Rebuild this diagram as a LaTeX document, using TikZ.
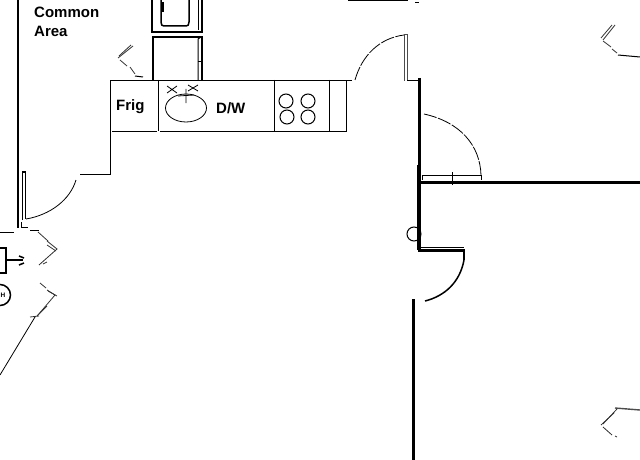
\documentclass[tikz,border=0pt]{standalone}
\usepackage{fontspec}
\setmainfont{Liberation Sans}
\usepackage{tikz}
\tikzset{
	wall/.style={line width=1pt},
	thick wall/.style={line width=1.5pt},
	heavy/.style={line width=3pt},
	fine/.style={line width=0.8pt},
	swing/.style={line width=0.8pt, dash pattern=on 14pt off 1.5pt},
	winline/.style={line width=0.8pt, black!80},
	label/.style={font=\bfseries\fontsize{15}{17}\selectfont, inner sep=0pt, anchor=west}
}
\begin{document}
\begin{tikzpicture}[x=1pt,y=-1pt]
	\useasboundingbox (0,0) rectangle (640,460);
	\node[label] (common) at (34,12) {Common};
	\node[label] (area) at (34,31) {Area};
	\node[label] (frig) at (116,107) {Frig};
	\node[label] (dw) at (216,108) {D/W};
	% outer walls, left
	\draw[thick wall] (18,0) -- (18,228);
	\draw[fine] (0,232) -- (14,232);
	\draw[fine] (21,222) -- (21,227) -- (28,227);
	\draw[fine] (30,230) -- (39,230);
	\draw[wall] (80,174) -- (110,174) -- (110,80);
	\draw[thick wall] (22.5,220) -- (22.5,172) -- (25.5,172) -- (25.5,219);
	\draw[fine] (26,219) .. controls (50,215) and (70,200) .. (76,180);
	% counter
	\draw[wall] (110,80.5) -- (352,80.5);
	\draw[wall] (112,131) -- (157,131);
	\draw[wall] (160,131) -- (346.5,131) -- (346.5,81);
	\foreach \x in {158.5,274,329}
		\draw[wall] (\x,80) -- (\x,131);
	\draw[fine] (186,108) ellipse (20.5 and 14);
	\draw[fine] (186,89) -- (186,103) (178,96) -- (194,95);
	\draw[fine] (167,86) -- (177,93) (167,93) -- (177,86);
	\draw[fine] (188,85) -- (198,91) (188,91) -- (198,85);
	\foreach \x/\y in {286/101,308/101,287/117,308/117}
		\draw[wall] (\x,\y) circle (7);
	% stacked units
	\draw[thick wall] (152,-2) rectangle (202,32);
	\draw[thick wall] (161,-2) -- (161,22) .. controls (161,25) and (162,26) .. (164,26) -- (186,26) .. controls (188,26) and (189,25) .. (189,22) -- (189,-2);
	\draw[line width=3pt] (162.5,2) -- (162.5,12);
	\draw[wall] (198,0) -- (198,30) (201,0) -- (201,30);
	\draw[thick wall] (153,80) -- (153,37) -- (202,37) -- (202,80);
	\draw[wall] (198,80) -- (198,39) -- (201,37);
	\draw[wall] (152,54) -- (152,68);
	\draw[fine] (198,61) -- (201,61);
	% top door
	\draw[line width=1pt, black!70] (404.5,81) -- (404.5,35) -- (407,35) -- (407,81);
	\draw[swing] (355,80) .. controls (362,55) and (380,38) .. (404,35);
	\draw[fine] (407,80) -- (418,80);
	\draw[thick wall] (348,0.6) -- (408,0.6);
	\draw[fine] (415,2) -- (419,2);
	% right walls
	\draw[heavy] (419.5,78) -- (419.5,165);
	\draw[line width=4pt] (418.5,165) -- (418.5,250);
	\draw[heavy] (419,182) -- (640,182);
	\draw[fine] (422,180) -- (422,175.5) -- (481,175.5) -- (481,180);
	\draw[swing] (481,175) .. controls (480,145) and (460,122) .. (424,114);
	\draw[wall] (452,172) -- (452,185);
	\draw[wall] (414,234) circle (7);
	\draw[heavy] (418,250.5) -- (465,250.5);
	\draw[fine] (419,247.5) -- (464,247.5);
	\draw[thick wall] (464,250) -- (464,260);
	\draw[thick wall] (464,260) .. controls (460,282) and (445,296) .. (425,301);
	\draw[heavy] (413,299) -- (413,460);
	% lower left fixtures
	\draw[thick wall] (0,248) -- (6,248) -- (6,273) -- (0,273);
	\draw[thick wall] (6,260) -- (23,260);
	\draw[thick wall] (19,256) -- (24,258) (19,265) -- (24,263);
	\draw[thick wall] (0,295) circle (10.5);
	\node[font=\bfseries\fontsize{6.5}{8}\selectfont, inner sep=0pt, anchor=west] (heater) at (0.5,295) {H};
	% window marks
	\draw[winline] (38,232) -- (48,241) (47,241) -- (57,249) -- (39,265);
	\draw[winline] (47,245) -- (56,251);
	\draw[winline] (43,264) -- (47,262);
	\draw[winline] (40,283) -- (46,288) (47,290) -- (55,295) -- (38,315);
	\draw[winline] (48,291) -- (57,296);
	\draw[winline] (37,316) -- (47,306);
	\draw[winline] (30,317) -- (39,316);
	\draw[fine] (35,317) -- (0,375);
	\draw[winline] (133,46) -- (118,58);
	\draw[winline] (131,45) -- (119,56);
	\draw[winline] (120,60) -- (127,66) (130,67) -- (135,74);
	\draw[wall] (135,76) -- (143,77);
	\draw[winline] (615,25) -- (603,40);
	\draw[winline] (612,25) -- (601,38);
	\draw[winline] (603,41) -- (611,47) (612,49) -- (617,53);
	\draw[wall] (618,55) -- (640,57);
	\draw[winline] (617,409) -- (603,424);
	\draw[winline] (614,413) -- (601,425);
	\draw[winline] (603,427) -- (612,435) (615,436) -- (617,437);
	\draw[line width=1.4pt, black!70] (615,408) -- (640,410);
\end{tikzpicture}
\end{document}
